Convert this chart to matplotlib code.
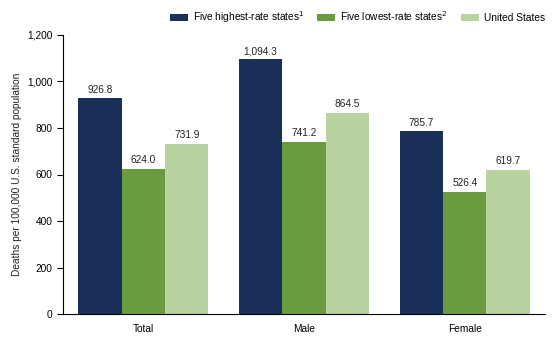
import matplotlib.pyplot as plt
import numpy as np

plt.rcParams['font.family'] = ['Liberation Sans', 'DejaVu Sans']

categories = ['Total', 'Male', 'Female']
series_names = ['Five highest-rate states$^1$', 'Five lowest-rate states$^2$', 'United States']
highest = [926.8, 1094.3, 785.7]
lowest = [624.0, 741.2, 526.4]
us = [731.9, 864.5, 619.7]
colors = ['#1b2f5b', '#6a9c3f', '#b8d2a0']

fs = 7.3
fig = plt.figure(figsize=(5.6, 3.49), dpi=100)
ax = fig.add_axes([0.1125, 0.1, 0.861, 0.8])

x = np.arange(len(categories))
w = 0.27
for i, (vals, name) in enumerate(zip([highest, lowest, us], series_names)):
    bars = ax.bar(x + (i - 1) * w, vals, w, color=colors[i], label=name)
    for b, v in zip(bars, vals):
        ax.text(b.get_x() + b.get_width() / 2, v + 15, f'{v:,.1f}',
                ha='center', va='bottom', fontsize=fs, color='#222222')

ax.set_xlim(-0.5, 2.5)
ax.set_ylim(0, 1200)
ax.set_yticks(range(0, 1201, 200))
ax.set_yticklabels([f'{t:,}' for t in range(0, 1201, 200)])
ax.set_xticks(x)
ax.set_xticklabels(categories)
ax.tick_params(axis='x', length=0, labelsize=fs, pad=7)
ax.tick_params(axis='y', labelsize=fs, length=4, direction='out')
ax.spines['top'].set_visible(False)
ax.spines['right'].set_visible(False)
ax.set_ylabel('Deaths per 100,000 U.S. standard population', fontsize=fs, color='#222222')

fig.legend(loc='center right', bbox_to_anchor=(0.973, 0.951), bbox_transform=fig.transFigure,
           ncol=3, frameon=False, fontsize=fs, handlelength=1.78, handleheight=0.6,
           handletextpad=0.5, columnspacing=1.3, borderaxespad=0, borderpad=0)

fig.savefig('out.png', dpi=100)
